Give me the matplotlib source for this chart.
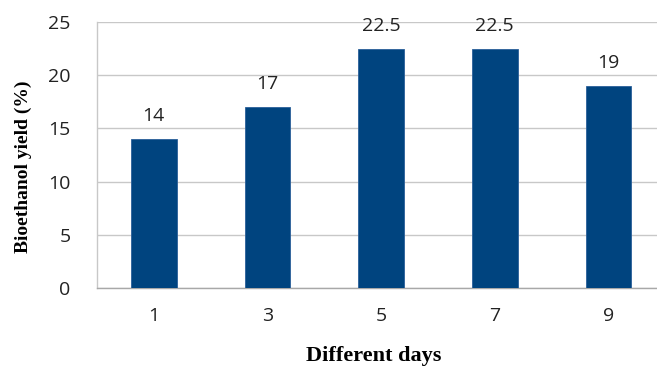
import matplotlib
matplotlib.use("Agg")
import matplotlib.pyplot as plt

days = ["1", "3", "5", "7", "9"]
yield_pct = [14, 17, 22.5, 22.5, 19]
value_labels = ["14", "17", "22.5", "22.5", "19"]
y_ticks = [0, 5, 10, 15, 20, 25]

bar_color = "#00447F"
grid_color = "#C8C8C8"
tick_font = ["Open Sans", "DejaVu Sans"]
label_font = ["Liberation Serif", "DejaVu Serif"]

fig = plt.figure(figsize=(6.57, 3.67), dpi=100)
ax = fig.add_axes([0.1476, 0.2153, 0.865, 0.725])

x = list(range(len(days)))
ax.bar(x, yield_pct, width=0.40, color=bar_color, edgecolor="#2A5F99",
       linewidth=0.6, zorder=3)

for xi, v, txt in zip(x, yield_pct, value_labels):
    ax.annotate(txt, (xi, v), xytext=(0, 10), textcoords="offset points",
                ha="center", va="bottom", fontsize=14, family=tick_font,
                color="#222222")

ax.set_xlim(-0.5, len(days) - 0.5)
ax.set_ylim(0, 25)
ax.set_yticks(y_ticks)
ax.set_xticks(x)
ax.set_xticklabels(days)
ax.yaxis.grid(True, color=grid_color, linewidth=1.0, zorder=0)
ax.set_axisbelow(True)

for lab in ax.get_xticklabels() + ax.get_yticklabels():
    lab.set_family(tick_font)
    lab.set_fontsize(14)
    lab.set_color("#222222")
ax.tick_params(axis="both", length=0)
ax.tick_params(axis="y", pad=19)
ax.tick_params(axis="x", pad=14)

for side in ("top", "right"):
    ax.spines[side].set_visible(False)
ax.spines["left"].set_color(grid_color)
ax.spines["bottom"].set_color("#A8A8A8")
ax.spines["left"].set_linewidth(1.0)
ax.spines["bottom"].set_linewidth(1.0)

fig.text(0.035, 0.545, "Bioethanol yield (%)", rotation=90, ha="center",
         va="center", family=label_font, fontweight="bold", fontsize=14)
fig.text(0.569, 0.004, "Different days", ha="center", va="bottom",
         family=label_font, fontweight="bold", fontsize=16)

fig.savefig("out.png", dpi=100)
